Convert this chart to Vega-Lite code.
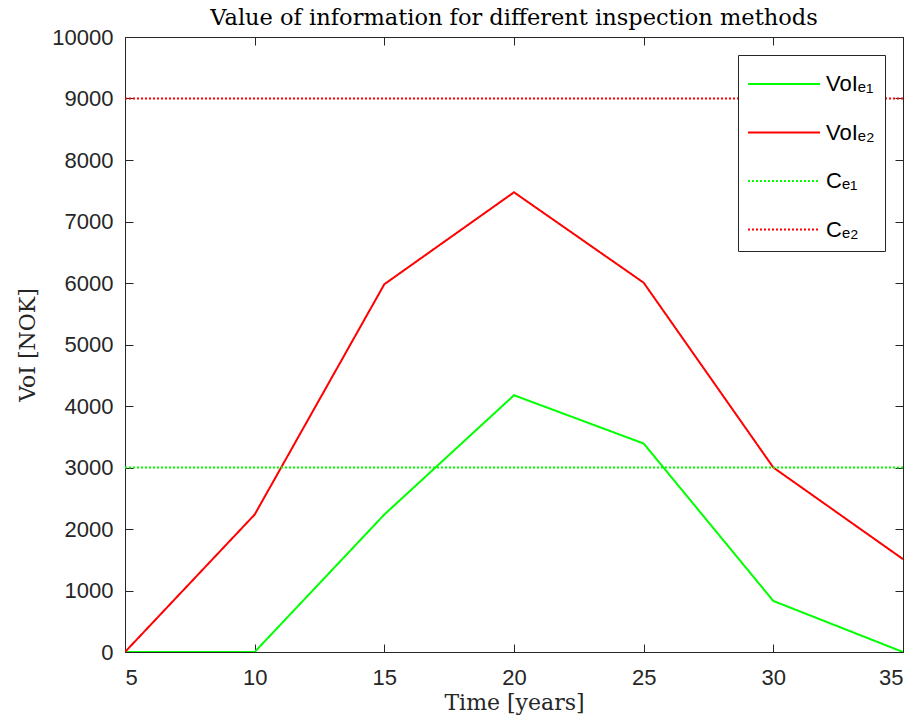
{
  "$schema": "https://vega.github.io/schema/vega-lite/v6.json",
  "autosize": "none",
  "width": 778,
  "height": 615,
  "padding": {"left": 125, "top": 37, "right": 18, "bottom": 74},
  "background": "white",
  "title": {
    "text": "Value of information for different inspection methods",
    "font": "DejaVu Serif",
    "fontSize": 22.5,
    "fontWeight": "normal",
    "color": "#000000",
    "anchor": "middle",
    "offset": -3
  },
  "config": {
    "view": {"stroke": "#262626", "strokeWidth": 1},
    "axis": {
      "grid": false,
      "domain": false,
      "ticks": true,
      "offset": -8,
      "tickSize": 8,
      "tickColor": "#262626",
      "tickWidth": 1,
      "tickOpacity": 1,
      "labelColor": "#262626",
      "labelFont": "Liberation Sans",
      "labelFontSize": 22,
      "titleFont": "DejaVu Serif",
      "titleFontSize": 22,
      "titleFontWeight": "normal",
      "titleColor": "#262626"
    }
  },
  "data": {
    "values": [
      {"series": "VoIₑ₁", "t": 5, "v": 0},
      {"series": "VoIₑ₁", "t": 10, "v": 0},
      {"series": "VoIₑ₁", "t": 15, "v": 2235},
      {"series": "VoIₑ₁", "t": 20, "v": 4175},
      {"series": "VoIₑ₁", "t": 25, "v": 3390},
      {"series": "VoIₑ₁", "t": 30, "v": 830},
      {"series": "VoIₑ₁", "t": 35, "v": 0},
      {"series": "VoIₑ₂", "t": 5, "v": 0},
      {"series": "VoIₑ₂", "t": 10, "v": 2235},
      {"series": "VoIₑ₂", "t": 15, "v": 5980},
      {"series": "VoIₑ₂", "t": 20, "v": 7475},
      {"series": "VoIₑ₂", "t": 25, "v": 6005},
      {"series": "VoIₑ₂", "t": 30, "v": 3000},
      {"series": "VoIₑ₂", "t": 35, "v": 1510},
      {"series": "Cₑ₁", "t": 5, "v": 3000},
      {"series": "Cₑ₁", "t": 35, "v": 3000},
      {"series": "Cₑ₂", "t": 5, "v": 9000},
      {"series": "Cₑ₂", "t": 35, "v": 9000}
    ]
  },
  "layer": [
    {
      "mark": {"type": "line", "strokeWidth": 2, "clip": true},
      "encoding": {
        "x": {
          "field": "t", "type": "quantitative",
          "scale": {"domain": [5, 35], "nice": false, "zero": false},
          "axis": {"orient": "bottom", "values": [5, 10, 15, 20, 25, 30, 35], "labelPadding": 15, "title": "Time [years]", "titlePadding": 4}
        },
        "y": {
          "field": "v", "type": "quantitative",
          "scale": {"domain": [0, 10000], "nice": false},
          "axis": {"orient": "left", "values": [0, 1000, 2000, 3000, 4000, 5000, 6000, 7000, 8000, 9000, 10000], "format": "d", "labelPadding": 12, "title": "VoI [NOK]", "titlePadding": 12}
        },
        "color": {
          "field": "series", "type": "nominal",
          "sort": ["VoIₑ₁", "VoIₑ₂", "Cₑ₁", "Cₑ₂"],
          "scale": {"domain": ["VoIₑ₁", "VoIₑ₂", "Cₑ₁", "Cₑ₂"], "range": ["#00ff00", "#ff0000", "#00ff00", "#ff0000"]},
          "legend": {
            "title": null,
            "orient": "top-right",
            "offset": 18,
            "symbolType": "M-2,0H2",
            "symbolSize": 1296,
            "symbolOffset": 17,
            "symbolStrokeWidth": 2,
            "labelFont": "Liberation Sans",
            "labelFontSize": 22,
            "labelColor": "#000000",
            "strokeColor": "#262626",
            "fillColor": "white",
            "padding": 10,
            "rowPadding": 18.5,
            "labelOffset": 23
          }
        },
        "strokeDash": {
          "field": "series", "type": "nominal",
          "sort": ["VoIₑ₁", "VoIₑ₂", "Cₑ₁", "Cₑ₂"],
          "scale": {"domain": ["VoIₑ₁", "VoIₑ₂", "Cₑ₁", "Cₑ₂"], "range": [[1, 0], [1, 0], [2, 2], [2, 2]]}
        }
      }
    },
    {
      "mark": {"type": "line", "opacity": 0},
      "encoding": {
        "x": {"field": "t", "type": "quantitative", "axis": {"orient": "top", "values": [5, 10, 15, 20, 25, 30, 35], "labels": false, "title": null}},
        "y": {"field": "v", "type": "quantitative", "axis": {"orient": "right", "values": [0, 1000, 2000, 3000, 4000, 5000, 6000, 7000, 8000, 9000, 10000], "labels": false, "title": null}}
      }
    }
  ]
}
